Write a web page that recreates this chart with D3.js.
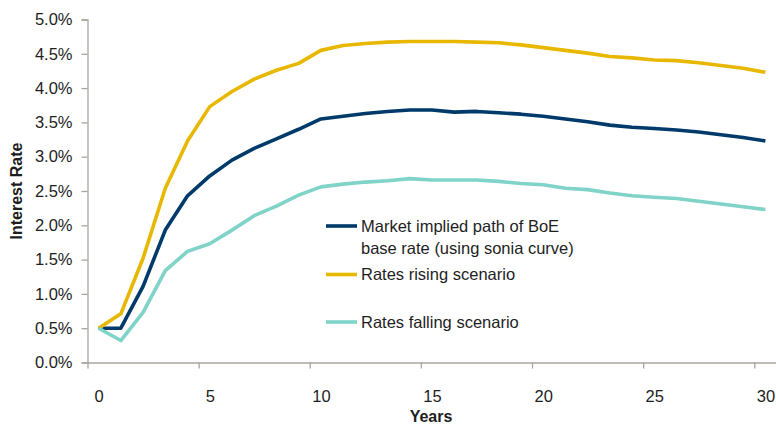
<!DOCTYPE html>
<html>
<head>
<meta charset="utf-8">
<script src="https://cdn.jsdelivr.net/npm/d3@7"></script>
<style>
  html, body { margin: 0; padding: 0; background: #fff; }
  svg { display: block; font-family: "Liberation Sans", Arial, sans-serif; }
</style>
</head>
<body>
<svg id="chart" width="776" height="424"></svg>
<script>
// Projection horizon in years
const years = d3.range(0, 31);

// Interest rate paths (%)
const marketPath = [0.50, 0.50, 1.11, 1.93, 2.43, 2.72, 2.95, 3.12, 3.26, 3.40,
  3.55, 3.59, 3.63, 3.66, 3.68, 3.68, 3.65, 3.66, 3.64, 3.62,
  3.59, 3.55, 3.51, 3.46, 3.43, 3.41, 3.39, 3.36, 3.32, 3.28, 3.23];
const risingPath = [0.50, 0.71, 1.52, 2.54, 3.23, 3.73, 3.95, 4.13, 4.26, 4.36,
  4.55, 4.62, 4.65, 4.67, 4.68, 4.68, 4.68, 4.67, 4.66, 4.63,
  4.59, 4.55, 4.51, 4.46, 4.44, 4.41, 4.40, 4.37, 4.33, 4.29, 4.23];
const fallingPath = [0.50, 0.32, 0.73, 1.34, 1.62, 1.73, 1.93, 2.14, 2.28, 2.44,
  2.56, 2.60, 2.63, 2.65, 2.68, 2.66, 2.66, 2.66, 2.64, 2.61,
  2.59, 2.54, 2.52, 2.47, 2.43, 2.41, 2.39, 2.35, 2.31, 2.27, 2.23];

const seriesNames = ["Market implied path of BoE|base rate (using sonia curve)",
  "Rates rising scenario", "Rates falling scenario"];
const seriesColors = ["#003a6b", "#e8b800", "#7fd3c8"];
const seriesValues = [marketPath, risingPath, fallingPath];

const yTicks = d3.range(0, 5.01, 0.5);
const xLabelTicks = [0, 5, 10, 15, 20, 25, 30];
const xMarkTicks = [-0.5, 4.5, 9.5, 14.5, 19.5, 24.5, 29.5];

const svg = d3.select("#chart");
const axisColor = "#a8a49e";
const textColor = "#1e1e1e";
const labelSize = 16.5;

const x = d3.scaleLinear().domain([-0.5, 30.5]).range([87.5, 776.5]);
const y = d3.scaleLinear().domain([0, 5]).range([362.5, 19.5]);

// Y axis
const yAxis = svg.append("g")
  .attr("transform", `translate(${x(-0.5)},0)`)
  .call(d3.axisLeft(y).tickValues(yTicks)
    .tickFormat(d => d.toFixed(1) + "%").tickSize(6).tickPadding(9));

// X axis: tick marks between categories, labels on the categories
const xAxisMarks = svg.append("g")
  .attr("transform", `translate(0,${y(0)})`)
  .call(d3.axisBottom(x).tickValues(xMarkTicks).tickFormat("").tickSize(6).tickSizeOuter(0));
const xAxisLabels = svg.append("g")
  .attr("transform", `translate(0,${y(0)})`)
  .call(d3.axisBottom(x).tickValues(xLabelTicks).tickSize(0).tickPadding(28));
xAxisLabels.select(".domain").remove();

[yAxis, xAxisMarks, xAxisLabels].forEach(g => {
  g.selectAll(".domain, line").attr("stroke", axisColor).attr("stroke-width", 1.3);
  g.selectAll("text").attr("font-size", labelSize).attr("fill", textColor)
    .attr("font-family", "'Liberation Sans', Arial, sans-serif");
});

// Series lines
const line = d3.line().x((d, i) => x(years[i])).y(d => y(d));
seriesValues.forEach((vals, k) => {
  svg.append("path")
    .datum(vals)
    .attr("fill", "none")
    .attr("stroke", seriesColors[k])
    .attr("stroke-width", 3.6)
    .attr("stroke-linejoin", "round")
    .attr("d", line);
});

// Axis titles
svg.append("text")
  .attr("transform", "translate(22,191) rotate(-90)")
  .attr("text-anchor", "middle")
  .attr("font-size", 16).attr("font-weight", "bold").attr("fill", textColor)
  .text("Interest Rate");
svg.append("text")
  .attr("x", 431).attr("y", 422)
  .attr("text-anchor", "middle")
  .attr("font-size", 16).attr("font-weight", "bold").attr("fill", textColor)
  .text("Years");

// Legend
const legendRows = [226, 274.5, 322];
const legend = svg.append("g");
seriesNames.forEach((name, k) => {
  const ly = legendRows[k];
  legend.append("line")
    .attr("x1", 326).attr("x2", 357).attr("y1", ly).attr("y2", ly)
    .attr("stroke", seriesColors[k]).attr("stroke-width", 3.6);
  const t = legend.append("text")
    .attr("x", 361).attr("y", ly)
    .attr("font-size", labelSize).attr("fill", textColor);
  name.split("|").forEach((part, j) => {
    t.append("tspan").attr("x", 361).attr("dy", j === 0 ? "0.35em" : "22px").text(part);
  });
});
</script>
</body>
</html>
